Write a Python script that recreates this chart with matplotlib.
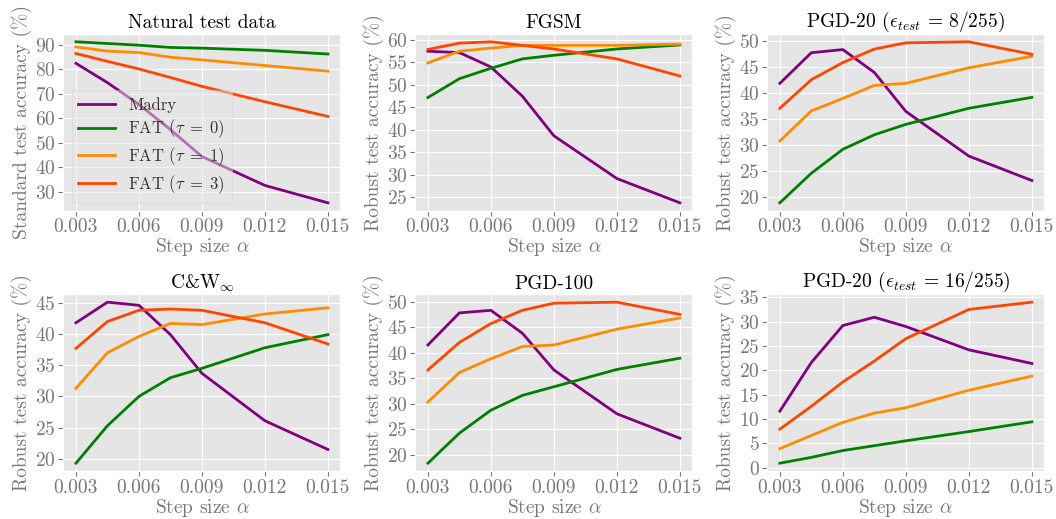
import matplotlib
matplotlib.use('Agg')
import matplotlib.pyplot as plt

plt.style.use('ggplot')
plt.rcParams['font.family'] = 'serif'
plt.rcParams['font.serif'] = ['cmr10', 'DejaVu Serif']
plt.rcParams['mathtext.fontset'] = 'cm'
plt.rcParams['axes.formatter.use_mathtext'] = True
plt.rcParams['axes.unicode_minus'] = False

# step sizes
step = [0.003, 0.0045, 0.006, 0.0075, 0.009, 0.012, 0.015]

labels = ['Madry', r'FAT ($\tau\;=\;0$)', r'FAT ($\tau\;=\;1$)', r'FAT ($\tau\;=\;3$)']
colors = ['purple', 'green', 'darkorange', 'orangered']

titles = ['Natural test data', 'FGSM', r'PGD-20 ($\epsilon_{test}\,=\,8/255$)',
          r'C&W$_\infty$', 'PGD-100', r'PGD-20 ($\epsilon_{test}\,=\,16/255$)']
ylabels = ['Standard test accuracy (%)'] + ['Robust test accuracy (%)'] * 5

# values per panel: Madry, FAT tau=0, FAT tau=1, FAT tau=3
natural = [
    [82.4, 74.5, 65.6, 55.3, 44.3, 32.5, 25.4],
    [91.2, 90.5, 89.8, 88.9, 88.6, 87.7, 86.2],
    [89.1, 87.4, 86.8, 84.9, 83.8, 81.5, 79.2],
    [86.4, 83.2, 80.1, 76.6, 73.0, 66.7, 60.7],
]
fgsm = [
    [57.5, 57.2, 54.0, 47.5, 38.7, 29.2, 23.8],
    [47.2, 51.4, 53.7, 55.8, 56.6, 58.0, 58.9],
    [54.9, 57.5, 58.2, 58.8, 58.8, 58.8, 59.1],
    [57.9, 59.3, 59.6, 58.8, 58.0, 55.8, 52.0],
]
pgd20_8 = [
    [41.9, 47.8, 48.4, 44.0, 36.5, 27.9, 23.2],
    [18.9, 24.6, 29.2, 32.0, 34.0, 37.1, 39.2],
    [30.8, 36.6, 39.0, 41.5, 41.9, 44.9, 47.1],
    [37.1, 42.6, 45.9, 48.5, 49.7, 49.9, 47.5],
]
cw = [
    [41.8, 45.1, 44.6, 39.9, 33.7, 26.1, 21.5],
    [19.3, 25.3, 30.0, 33.0, 34.5, 37.8, 39.9],
    [31.3, 37.0, 39.6, 41.7, 41.5, 43.2, 44.2],
    [37.7, 42.0, 43.8, 44.0, 43.8, 41.8, 38.4],
]
pgd100 = [
    [41.5, 47.8, 48.3, 43.8, 36.6, 28.0, 23.2],
    [18.3, 24.2, 28.7, 31.6, 33.3, 36.7, 38.9],
    [30.3, 36.1, 38.8, 41.2, 41.5, 44.6, 46.8],
    [36.6, 42.0, 45.7, 48.3, 49.7, 49.9, 47.5],
]
pgd20_16 = [
    [11.6, 21.6, 29.2, 30.9, 29.0, 24.2, 21.4],
    [0.9, 2.1, 3.5, 4.5, 5.5, 7.4, 9.4],
    [3.9, 6.6, 9.3, 11.2, 12.3, 15.9, 18.8],
    [7.9, 12.6, 17.6, 21.9, 26.5, 32.5, 34.0],
]
panels = [natural, fgsm, pgd20_8, cw, pgd100, pgd20_16]

grey = '#777777'

fig, axes = plt.subplots(2, 3, figsize=(10.56, 5.19), dpi=100)
fig.subplots_adjust(left=0.06, right=0.989, top=0.935, bottom=0.092,
                    wspace=0.27, hspace=0.47)

for ax, data, title, ylab in zip(axes.flat, panels, titles, ylabels):
    for vals, c, lab in zip(data, colors, labels):
        ax.plot(step, vals, color=c, linewidth=2, label=lab)
    ax.set_title(title, fontsize=14, color='black', pad=4)
    ax.set_xlabel(r'Step size $\alpha$', fontsize=14, labelpad=0, color=grey)
    ax.set_ylabel(ylab, fontsize=14, labelpad=2, color=grey)
    ax.set_xticks([0.003, 0.006, 0.009, 0.012, 0.015])
    ax.set_xticklabels(['0.003', '0.006', '0.009', '0.012', '0.015'])
    ax.tick_params(labelsize=14, pad=2, labelcolor=grey, color=grey)

axes[0, 0].set_yticks([30, 40, 50, 60, 70, 80, 90])
axes[0, 1].set_yticks([25, 30, 35, 40, 45, 50, 55, 60])
axes[0, 2].set_yticks([20, 25, 30, 35, 40, 45, 50])
axes[1, 0].set_yticks([20, 25, 30, 35, 40, 45])
axes[1, 1].set_yticks([20, 25, 30, 35, 40, 45, 50])
axes[1, 2].set_yticks([0, 5, 10, 15, 20, 25, 30, 35])

leg = axes[0, 0].legend(loc='lower left', fontsize=12, labelspacing=0.3,
                        handlelength=2.2, framealpha=0.5, edgecolor='#d0d0d0')
for t in leg.get_texts():
    t.set_color('#333333')

plt.savefig('out.png', dpi=100)
